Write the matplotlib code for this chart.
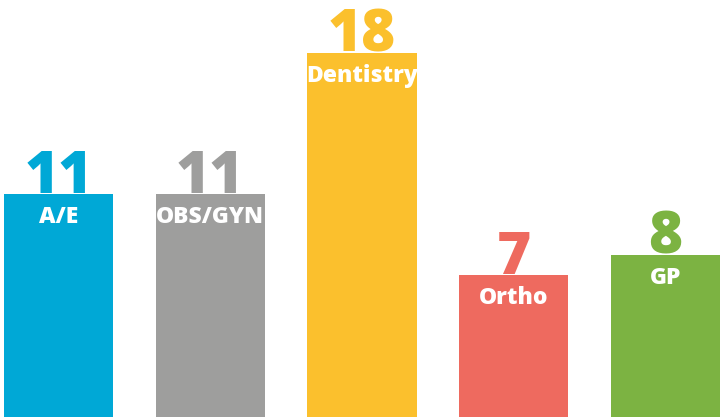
"""Bar chart of cases per department, values shown above each bar."""

import matplotlib.pyplot as plt

departments = ["A/E", "OBS/GYN", "Dentistry", "Ortho", "GP"]
counts = [11, 11, 18, 7, 8]
colors = ["#00A8D6", "#9E9E9D", "#FBC02D", "#EE6A5F", "#7CB342"]


def main() -> None:
    fig = plt.figure(figsize=(7.2, 4.17), dpi=100)
    ax = fig.add_axes([0, 0, 1, 1])
    x = range(len(departments))
    ax.bar(x, counts, width=0.72, color=colors, zorder=2)

    for i, (name, value, color) in enumerate(zip(departments, counts, colors)):
        ax.annotate(str(value), (i, value), xytext=(0, -9), textcoords="offset points",
                    ha="center", va="bottom", fontsize=42, fontweight="heavy",
                    color=color, family=["Open Sans", "DejaVu Sans"], zorder=1)
        ax.annotate(name, (i, value), xytext=(0, -8), textcoords="offset points",
                    ha="center", va="top", fontsize=16.5, fontweight="heavy",
                    color="white", family=["Open Sans", "DejaVu Sans"], zorder=3)

    ax.set_xlim(-0.385, 4.359)
    ax.set_ylim(0, 20.6)
    ax.axis("off")
    fig.savefig("out.png", dpi=100)
    plt.close(fig)


if __name__ == "__main__":
    main()
